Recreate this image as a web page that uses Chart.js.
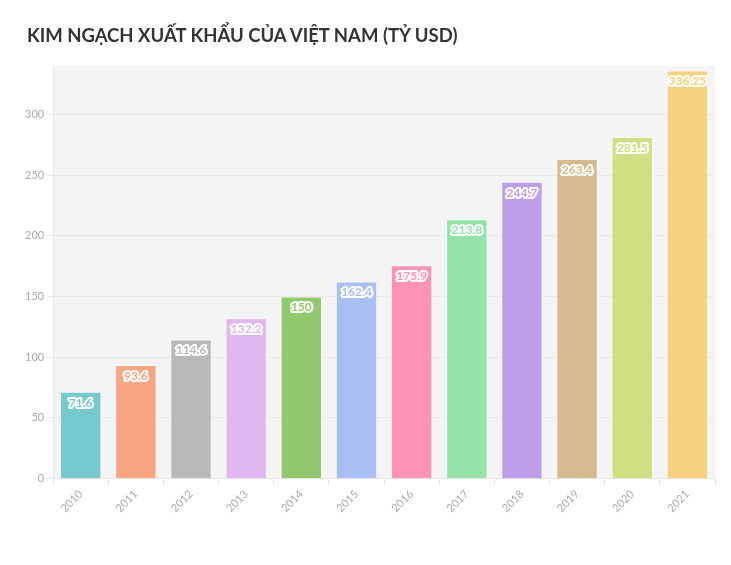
<!DOCTYPE html>
<html>
<head>
<meta charset="utf-8">
<script src="https://cdn.jsdelivr.net/npm/chart.js@4"></script>
<style>
  html, body { margin: 0; padding: 0; background: #fff; }
  #wrap { position: relative; width: 731px; height: 565px; }
  #title { position: absolute; left: 27px; top: 23px; margin: 0; font: bold 18.5px Lato, "Noto Sans", sans-serif; color: #333; line-height: 24px; white-space: nowrap; }
</style>
</head>
<body>
<div id="wrap"><h1 id="title"></h1><canvas id="c" width="731" height="565"></canvas></div>
<script>
const years = ['2010','2011','2012','2013','2014','2015','2016','2017','2018','2019','2020','2021'];
const exportValues = [71.6, 93.6, 114.6, 132.2, 150, 162.4, 175.9, 213.8, 244.7, 263.4, 281.5, 336.25];
const valueLabels = ['71.6','93.6','114.6','132.2','150','162.4','175.9','213.8','244.7','263.4','281.5','336.25'];
const barColors = ['#76cacf','#f8a682','#b9b9b9','#dfb8f1','#93c96e','#a9bff3','#fe93b5','#94e3a9','#bd9eea','#d6b98f','#d0df81','#f6d27e'];
const titleText = 'KIM NGẠCH XUẤT KHẨU CỦA VIỆT NAM (TỶ USD)';

document.getElementById('title').textContent = titleText;

const bgPlugin = {
  id: 'plotBg',
  beforeDraw(chart) {
    const {ctx, chartArea: a} = chart;
    ctx.save();
    ctx.fillStyle = '#f4f4f4';
    ctx.fillRect(a.left, a.top, a.right - a.left, a.bottom - a.top);
    ctx.restore();
  }
};

const labelPlugin = {
  id: 'barLabels',
  afterDatasetsDraw(chart) {
    const ctx = chart.ctx;
    const meta = chart.getDatasetMeta(0);
    ctx.save();
    ctx.font = 'bold 12px Lato, "Noto Sans", sans-serif';
    ctx.textAlign = 'center';
    ctx.textBaseline = 'middle';
    ctx.lineJoin = 'round';
    meta.data.forEach((bar, i) => {
      const y = bar.y + 11;
      ctx.lineWidth = 4;
      ctx.strokeStyle = '#ffffff';
      ctx.strokeText(valueLabels[i], bar.x, y);
      ctx.fillStyle = barColors[i];
      ctx.fillText(valueLabels[i], bar.x, y);
    });
    ctx.restore();
  }
};

new Chart(document.getElementById('c'), {
  type: 'bar',
  data: {
    labels: years,
    datasets: [{
      data: exportValues,
      backgroundColor: barColors,
      borderColor: 'rgba(255,255,255,0.35)',
      borderWidth: 1,
      barPercentage: 0.75,
      categoryPercentage: 1.0
    }]
  },
  options: {
    responsive: false,
    animation: false,
    devicePixelRatio: 1,
    layout: { padding: { left: 22, right: 16, top: 66, bottom: 47 } },
    plugins: {
      legend: { display: false },
      tooltip: { enabled: false },
      title: { display: false }
    },
    scales: {
      x: {
        grid: { display: true, drawOnChartArea: false, color: '#e6e6e6', tickLength: 6 },
        border: { color: '#e6e6e6' },
        ticks: { color: '#aaaaaa', font: { family: 'Lato, "Noto Sans", sans-serif', size: 11 }, maxRotation: 45, minRotation: 45 }
      },
      y: {
        min: 0,
        max: 340,
        afterBuildTicks(axis) {
          axis.ticks = axis.ticks.filter(t => t.value % 50 === 0);
        },
        grid: { color: '#e9e9e9', tickLength: 6 },
        border: { color: '#e6e6e6' },
        ticks: { stepSize: 50, color: '#aaaaaa', font: { family: 'Lato, "Noto Sans", sans-serif', size: 11 } }
      }
    }
  },
  plugins: [bgPlugin, labelPlugin]
});
</script>
</body>
</html>
